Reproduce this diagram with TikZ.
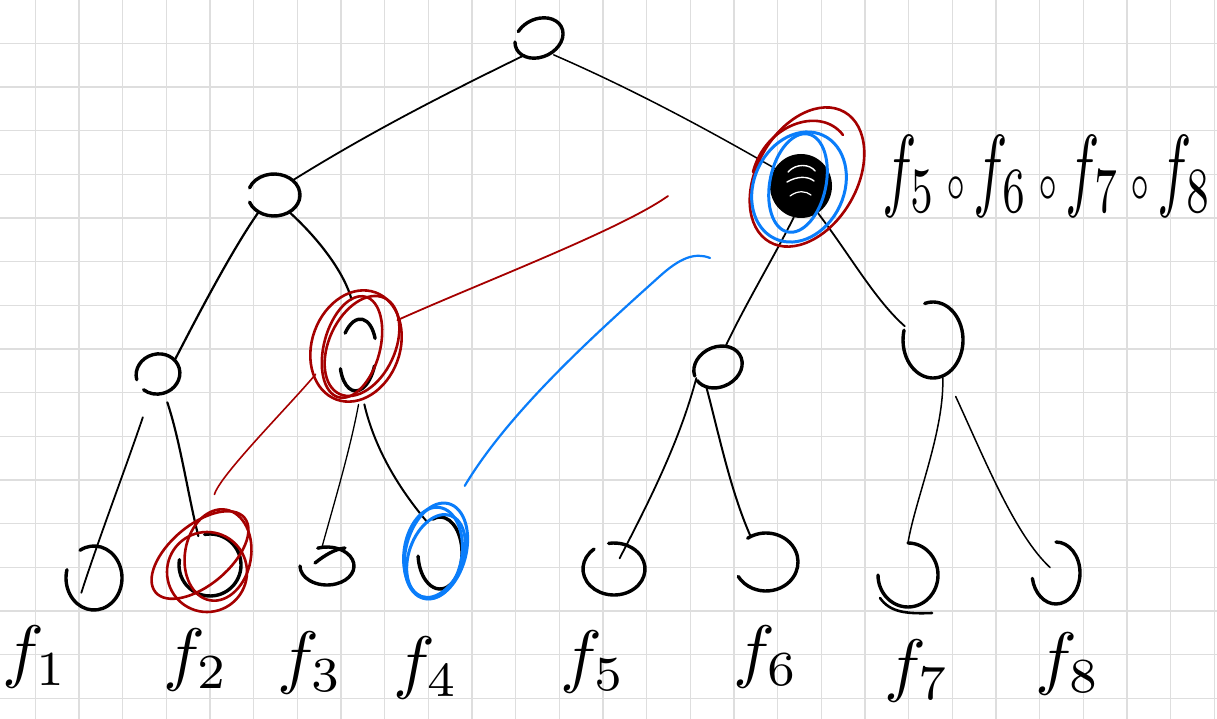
\documentclass[tikz,border=0pt]{standalone}
\usepackage{graphicx}
\usetikzlibrary{shapes.geometric}
\definecolor{gridc}{RGB}{222,222,222}
\definecolor{hred}{RGB}{165,0,0}
\definecolor{hblue}{RGB}{10,125,250}
\tikzset{
  nodeline/.style={line width=3.4pt, line cap=round, line join=round},
  edgeline/.style={line width=1.8pt, line cap=round},
  redline/.style={hred, line width=2.6pt, line cap=round},
  blueline/.style={hblue, line width=3pt, line cap=round},
  hshape/.style={ellipse, inner sep=0pt},
  lab/.style={inner sep=0pt},
  gridline/.style={gridc, line width=1.3pt}
}
% #1 style, #2 x, #3 y (screen), #4 rx, #5 ry, #6 rotation, #7 start, #8 end
\newcommand{\hoval}[8][]{\draw[nodeline,#1,shift={(#2,-#3)},rotate=#6] (#7:#4 and #5) arc[start angle=#7,end angle=#8,x radius=#4,y radius=#5];}
\newcommand{\bigf}[1]{\scalebox{7}{$f_{#1}$}}
\newcommand{\smallcirc}{{\,\scriptscriptstyle\circ\,}}
\begin{document}
\begin{tikzpicture}[x=1pt,y=1pt]
\useasboundingbox (0,0) rectangle (1217,-719);
\fill[white] (0,0) rectangle (1217,-719);
\foreach \k in {0,...,27} {\draw[gridline] ({35.3+43.67*\k},0) -- ({35.3+43.67*\k},-719);}
\foreach \k in {0,...,16} {\draw[gridline] (0,{0.3-43.67*\k}) -- (1217,{0.3-43.67*\k});}

% ---- tree nodes (shapes) ----
\node[hshape, minimum width=48pt, minimum height=42pt] (root) at (539,-38) {};
\node[hshape, minimum width=52pt, minimum height=43pt] (l1a) at (274,-195) {};
\node[hshape, fill=black, minimum width=62pt, minimum height=64pt] (l1b) at (801,-186) {};
\node[hshape, minimum width=44pt, minimum height=43pt] (l2a) at (158,-374) {};
\node[hshape, minimum width=38pt, minimum height=72pt] (l2b) at (358,-355) {};
\node[hshape, minimum width=50pt, minimum height=43pt] (l2c) at (718,-367) {};
\node[hshape, minimum width=60pt, minimum height=76pt] (l2d) at (933,-340) {};
\node[hshape, minimum width=56pt, minimum height=64pt] (n1) at (94,-578) {};
\node[hshape, minimum width=62pt, minimum height=62pt] (n2) at (210,-565) {};
\node[hshape, minimum width=53pt, minimum height=38pt] (n3) at (327,-566) {};
\node[hshape, minimum width=44pt, minimum height=72pt] (n4) at (440,-553) {};
\node[hshape, minimum width=62pt, minimum height=52pt] (n5) at (614,-569) {};
\node[hshape, minimum width=64pt, minimum height=58pt] (n6) at (766,-562) {};
\node[hshape, minimum width=60pt, minimum height=64pt] (n7) at (908,-575) {};
\node[hshape, minimum width=48pt, minimum height=62pt] (n8) at (1056,-573) {};
% annotation rings (named)
\node[hshape, minimum width=92pt, minimum height=116pt] (ringB) at (356,-346) {};
\node[hshape, minimum width=104pt, minimum height=104pt] (ring2) at (200,-558) {};
\node[hshape, minimum width=64pt, minimum height=100pt] (ring4) at (436,-551) {};
\node[hshape, minimum width=115pt, minimum height=140pt] (ringT) at (807,-177) {};
\coordinate (redend) at (668,-196);
\coordinate (blueend) at (710,-258);

% ---- hand-drawn node outlines ----
\hoval{539}{38}{25}{19}{25}{160}{490}
\hoval{274}{195}{26}{21}{0}{200}{520}
\hoval{158}{374}{22}{20}{15}{180}{-145}
\hoval{358}{355}{18}{36}{-5}{145}{30}
\hoval{358}{355}{18}{36}{-5}{205}{345}
\hoval{718}{367}{25}{20}{25}{175}{-170}
\hoval{933}{340}{30}{38}{0}{106}{-195}
\hoval{94}{578}{28}{32}{0}{120}{-195}
\hoval{210}{565}{31}{31}{0}{100}{-190}
\hoval{327}{566}{27}{19}{0}{110}{-180}
\hoval{440}{553}{22}{36}{0}{110}{-175}
\hoval{614}{569}{31}{26}{0}{130}{460}
\hoval{766}{562}{32}{29}{0}{125}{-150}
\hoval{908}{575}{30}{32}{0}{90}{-180}
\hoval{1056}{573}{24}{31}{0}{90}{-170}
\draw[nodeline, line width=2.6pt] (880,-598) .. controls (890,-612) and (905,-614) .. (932,-613);
\draw[nodeline] (315,-563) .. controls (325,-555) and (335,-549) .. (345,-548);
% scribble inside the filled node
\draw[white, line width=1.4pt, line cap=round] (788,-172) .. controls (796,-163) and (810,-164) .. (815,-171);
\draw[white, line width=1.4pt, line cap=round] (787,-182) .. controls (797,-176) and (808,-176) .. (814,-181);
\draw[white, line width=1.2pt, line cap=round] (790,-196) .. controls (798,-190) and (806,-191) .. (811,-195);
\draw[black, line width=1.6pt] (785,-192) -- (810,-187);

% ---- tree edges ----
\draw[edgeline] (root.230) .. controls (447,-93) and (372,-131) .. (l1a.38);
\draw[edgeline, line width=1.5pt] (root.311) .. controls (630,-88) and (705,-128) .. (l1b.146);
\draw[edgeline, line width=2.2pt] (l1a.228) .. controls (232,-250) and (198,-315) .. (l2a.40);
\draw[edgeline, line width=2.2pt, shorten >=20pt] (l1a.312) .. controls (322,-242) and (345,-275) .. (l2b.92);
\draw[edgeline, shorten <=24pt, shorten >=12pt] (l2a.250) .. controls (125,-470) and (100,-535) .. (n1.238);
\draw[edgeline, line width=2.2pt, shorten <=8pt] (l2a.288) .. controls (180,-440) and (188,-495) .. (n2.112);
\draw[edgeline, line width=1.3pt, shorten <=14pt] (l2b.275) .. controls (350,-450) and (335,-500) .. (n3.105);
\draw[edgeline, line width=2pt, shorten <=14pt] (l2b.275) .. controls (375,-450) and (400,-490) .. (n4.112);
\draw[edgeline] (l1b.257) .. controls (775,-255) and (745,-305) .. (l2c.70);
\draw[edgeline] (l1b.302) .. controls (850,-255) and (875,-300) .. (l2d.154);
\draw[edgeline, shorten >=12pt] (l2c.207) .. controls (680,-440) and (650,-500) .. (n5.center);
\draw[edgeline, line width=2pt] (l2c.238) .. controls (718,-430) and (730,-490) .. (n6.121);
\draw[edgeline, line width=1.5pt] (l2d.285) .. controls (945,-430) and (915,-500) .. (n7.90);
\draw[edgeline, line width=1.5pt, shorten <=24pt, shorten >=8pt] (l2d.290) .. controls (985,-460) and (1015,-535) .. (n8.center);

% ---- red annotations ----
\hoval[hred, line width=2.6pt]{356}{346}{44}{57}{-20}{0}{360}
\hoval[hred, line width=2.6pt]{352}{347}{28}{52}{-15}{0}{360}
\hoval[hred, line width=2.6pt]{362}{346}{33}{53}{-25}{0}{360}
\hoval[hred, line width=2.6pt]{200}{555}{58}{30}{40}{0}{360}
\hoval[hred, line width=2.6pt]{218}{555}{33}{46}{-10}{0}{360}
\hoval[hred, line width=2.6pt]{207}{572}{40}{40}{0}{0}{360}
\hoval[hred, line width=2.6pt]{807}{177}{50}{75}{-30}{0}{360}
\draw[redline] (753,-172) .. controls (765,-125) and (820,-105) .. (843,-135);
\draw[redline, line width=1.8pt] (ringB.32) .. controls (480,-283) and (620,-230) .. (redend);
\draw[redline, line width=1.6pt, shorten <=13pt] (ring2.78) .. controls (220,-475) and (290,-405) .. (ringB.215);

% ---- blue annotations ----
\hoval[hblue, line width=3pt]{799}{187}{45}{57}{-25}{0}{360}
\hoval[hblue, line width=3pt]{798}{183}{28}{50}{-12}{0}{360}
\hoval[hblue, line width=3pt]{436}{551}{30}{49}{-15}{0}{360}
\hoval[hblue, line width=3pt]{436}{556}{27}{43}{-20}{0}{360}
\hoval[hblue, line width=3pt]{433}{553}{29}{46}{-8}{0}{360}
\draw[blueline, line width=2.2pt, shorten <=25pt] (ring4.70) .. controls (510,-410) and (600,-330) .. (660,-276) .. controls (680,-258) and (695,-252) .. (blueend);

% ---- labels ----
\node[lab] (comp) at (1047,-176) {\resizebox{330pt}{64pt}{$f_5\smallcirc f_6\smallcirc f_7\smallcirc f_8$}};
\node[lab] (t1) at (35,-657) {\bigf{1}};
\node[lab] (t2) at (196,-660) {\bigf{2}};
\node[lab] (t3) at (310,-663) {\bigf{3}};
\node[lab] (t4) at (426,-668) {\bigf{4}};
\node[lab] (t5) at (593,-662) {\bigf{5}};
\node[lab] (t6) at (766,-657) {\bigf{6}};
\node[lab] (t7) at (917,-671) {\bigf{7}};
\node[lab] (t8) at (1068,-664) {\bigf{8}};
\end{tikzpicture}
\end{document}
